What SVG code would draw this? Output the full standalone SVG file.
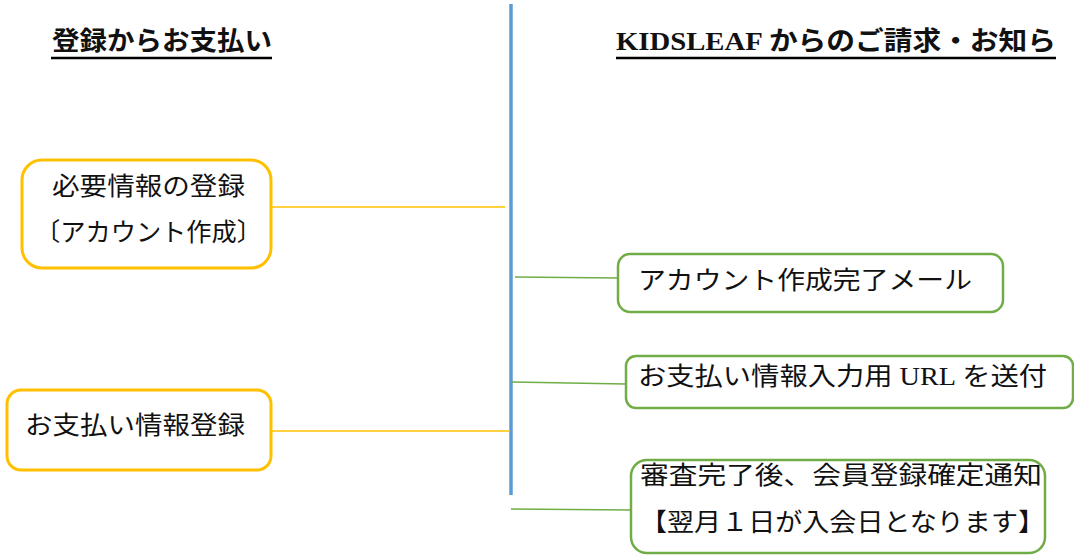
<svg xmlns="http://www.w3.org/2000/svg" width="1074" height="555" viewBox="0 0 1074 555">
<style>
text{font-family:"Liberation Serif","Noto Sans CJK JP",serif;fill:#111;font-size:25px}
.title{font-weight:bold;font-size:26px}
.ul{stroke:#000;stroke-width:2.5}
.ynode{fill:#fff;stroke:#FFC000;stroke-width:3}
.gnode{fill:#fff;stroke:#70AD47;stroke-width:2.5}
.yl{stroke:#FFC000;stroke-width:1.3;fill:none}
.gl{stroke:#70AD47;stroke-width:1.4;fill:none}
</style>
<rect width="1074" height="555" fill="#fff"/>
<g id="title-left">
<text class="title" x="52" y="50" textLength="220" lengthAdjust="spacingAndGlyphs">登録からお支払い</text>
<line class="ul" x1="51" y1="58" x2="272" y2="58"/>
</g>
<g id="title-right">
<text class="title" x="616" y="50" textLength="440" lengthAdjust="spacingAndGlyphs">KIDSLEAF からのご請求・お知ら</text>
<line class="ul" x1="616" y1="58" x2="1056" y2="58"/>
</g>
<g id="connectors">
<line x1="511" y1="4" x2="511" y2="495" stroke="#5B9BD5" stroke-width="3.5"/>
<line class="yl" x1="271" y1="207" x2="505" y2="207"/>
<line class="yl" x1="271" y1="431" x2="510" y2="431"/>
<line class="gl" x1="515" y1="277" x2="618" y2="278"/>
<line class="gl" x1="512" y1="382" x2="626" y2="384"/>
<line class="gl" x1="511" y1="509" x2="631" y2="510"/>
</g>
<g id="node-register">
<rect class="ynode" x="22" y="160" width="249" height="108" rx="20"/>
<text x="52" y="195" textLength="193" lengthAdjust="spacingAndGlyphs">必要情報の登録</text>
<text x="35" y="241" textLength="227" lengthAdjust="spacingAndGlyphs">〔アカウント作成〕</text>
</g>
<g id="node-payment">
<rect class="ynode" x="7" y="390" width="264" height="80" rx="14"/>
<text x="25" y="434" textLength="220" lengthAdjust="spacingAndGlyphs">お支払い情報登録</text>
</g>
<g id="node-mail">
<rect class="gnode" x="618" y="254" width="385" height="58" rx="12"/>
<text x="638" y="289" textLength="334" lengthAdjust="spacingAndGlyphs">アカウント作成完了メール</text>
</g>
<g id="node-url">
<rect class="gnode" x="626" y="356" width="447" height="52" rx="10"/>
<text x="638" y="385" textLength="409" lengthAdjust="spacingAndGlyphs">お支払い情報入力用 URL を送付</text>
</g>
<g id="node-confirm">
<rect class="gnode" x="631" y="460" width="414" height="93" rx="16"/>
<text x="640" y="484" textLength="402" lengthAdjust="spacingAndGlyphs">審査完了後、会員登録確定通知</text>
<text x="640" y="531" textLength="405" lengthAdjust="spacingAndGlyphs">【翌月１日が入会日となります】</text>
</g>
</svg>
